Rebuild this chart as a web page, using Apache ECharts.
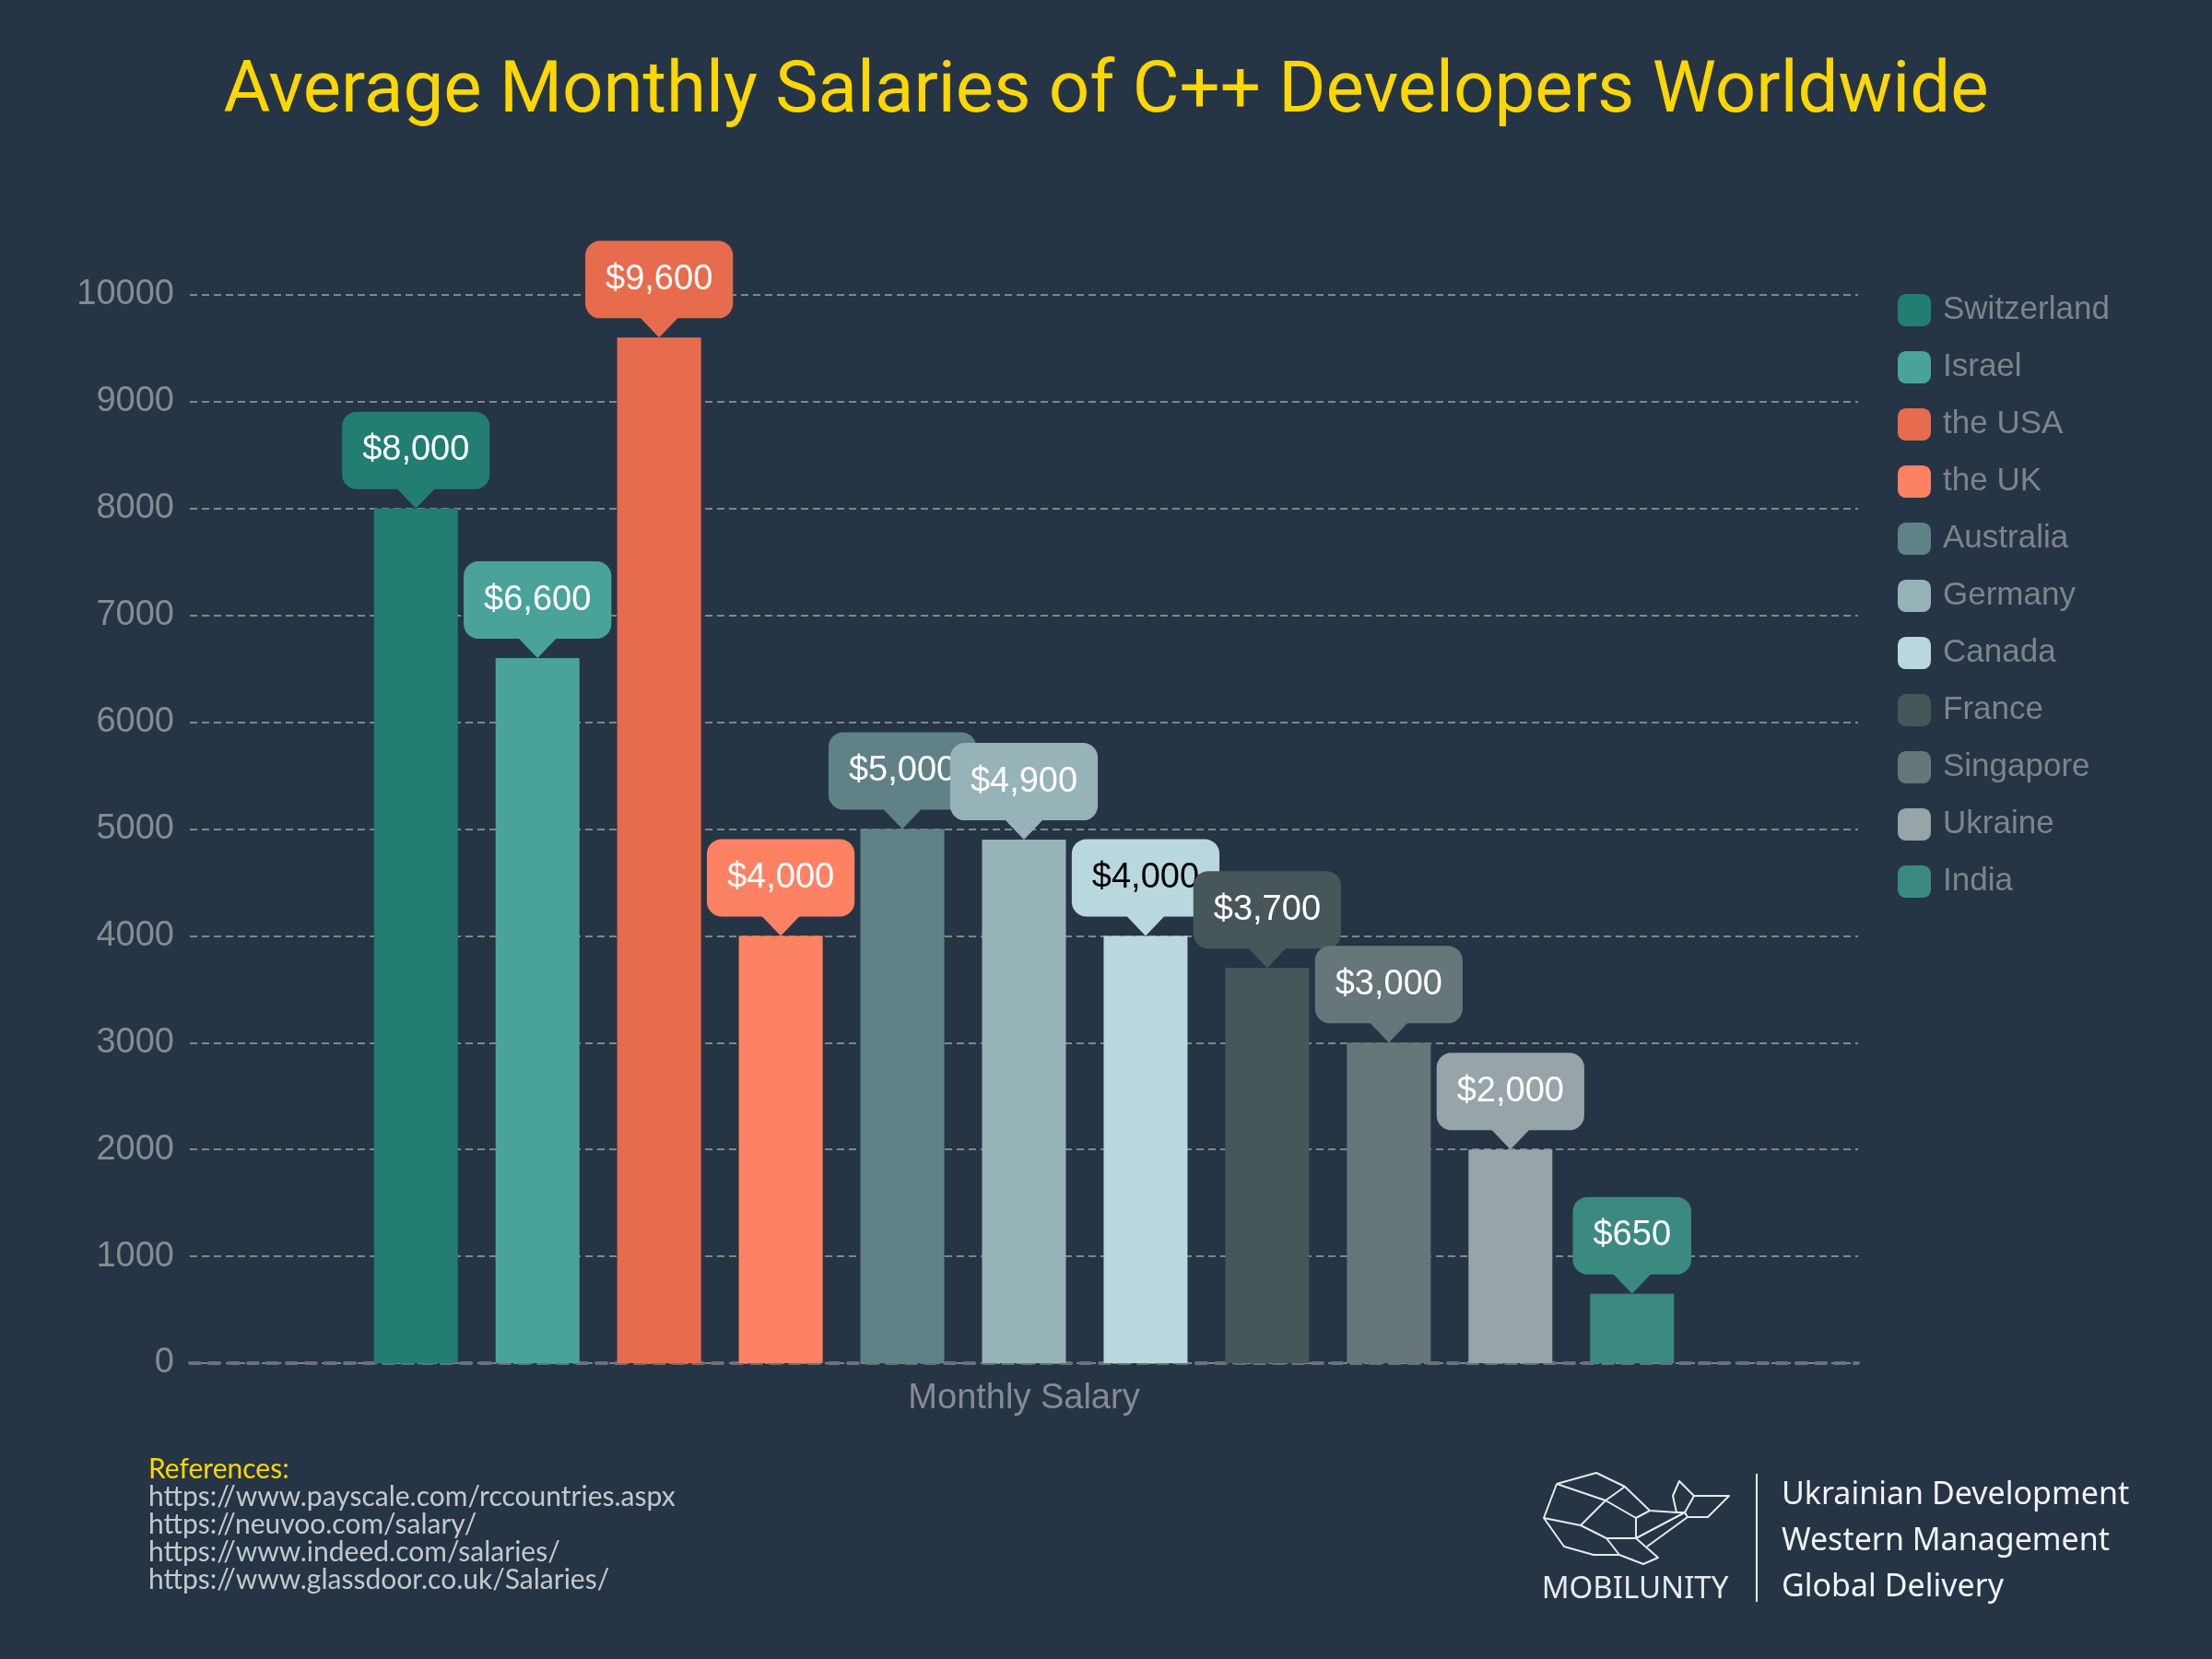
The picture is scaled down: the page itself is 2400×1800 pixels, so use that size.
<!DOCTYPE html>
<html>
<head>
<meta charset="utf-8">
<style>
  html, body { margin: 0; padding: 0; background: #253546; }
  #chart { width: 2400px; height: 1800px; }
</style>
<script src="https://cdn.jsdelivr.net/npm/echarts@6/dist/echarts.min.js"></script>
</head>
<body>
<div id="chart"></div>
<script>
// ---- data ----
const categories = ['Monthly Salary'];
const countries = ['Switzerland', 'Israel', 'the USA', 'the UK', 'Australia', 'Germany', 'Canada', 'France', 'Singapore', 'Ukraine', 'India'];
const salaries = [8000, 6600, 9600, 4000, 5000, 4900, 4000, 3700, 3000, 2000, 650];
const yTicks = { min: 0, max: 10000, interval: 1000 };
const references = [
  'https://www.payscale.com/rccountries.aspx',
  'https://neuvoo.com/salary/',
  'https://www.indeed.com/salaries/',
  'https://www.glassdoor.co.uk/Salaries/'
];
const taglines = ['Ukrainian Development', 'Western Management', 'Global Delivery'];

// ---- styles ----
const colors = ['#227D72', '#4AA39A', '#E76C4D', '#FD8263', '#608286', '#96B3B7', '#B8D8DD', '#475659', '#677679', '#97A4A8', '#3A8A81'];
const labelTextColors = ['#fff', '#fff', '#fff', '#fff', '#fff', '#fff', '#000', '#fff', '#fff', '#fff', '#fff'];
const bg = '#253546';
const gray = '#878b8f';
const sans = '"Liberation Sans", Arial, sans-serif';

function money(v) {
  return '$' + String(v).replace(/\B(?=(\d{3})+(?!\d))/g, ',');
}

const chart = echarts.init(document.getElementById('chart'), null, { renderer: 'canvas' });

const series = countries.map((name, i) => ({
  name: name,
  type: 'bar',
  data: [salaries[i]],
  barWidth: 91,
  barGap: '45%',
  itemStyle: { color: colors[i] },
  label: {
    show: true,
    position: 'top',
    distance: 21,
    formatter: p => money(p.value),
    color: labelTextColors[i],
    fontSize: 38,
    fontFamily: sans,
    lineHeight: 44,
    backgroundColor: colors[i],
    padding: [20, 22],
    borderRadius: 16
  },
  markPoint: {
    silent: true,
    animation: false,
    symbol: 'triangle',
    symbolSize: [42, 22],
    symbolRotate: 180,
    symbolOffset: [0, -11],
    itemStyle: { color: colors[i] },
    label: { show: false },
    data: [{ coord: [categories[0], salaries[i]] }]
  }
}));

// whale logo outline (decoration)
const P = {
  A: [1732, 1598], B: [1689, 1610], C: [1675, 1647], D: [1697, 1678], E: [1729, 1687],
  F: [1757, 1687], G: [1783, 1697], H: [1799, 1690], I: [1775, 1669], J: [1743, 1669],
  K: [1715, 1655], L: [1742, 1628], M: [1763, 1613], N: [1790, 1639], O: [1775, 1647],
  P: [1828, 1641], P2: [1819, 1641], Q: [1787, 1678], R: [1831, 1646],
  T1: [1815, 1623], T2: [1822, 1607], T3: [1838, 1623], T4: [1876, 1623], T5: [1853, 1646]
};
const whalePaths = [
  ['B', 'A', 'M', 'N', 'P2', 'P'],
  ['B', 'C', 'D', 'E', 'F', 'G', 'H', 'I'],
  ['B', 'L', 'M'],
  ['C', 'K', 'L', 'O', 'N'],
  ['K', 'J', 'F'],
  ['J', 'I', 'O'],
  ['I', 'P'],
  ['Q', 'R'],
  ['P2', 'T1', 'T2', 'T3', 'T4', 'T5', 'R'],
  ['T3', 'P', 'R']
];

const graphics = [];
whalePaths.forEach(path => {
  graphics.push({
    type: 'polyline', silent: true,
    shape: { points: path.map(k => P[k]) },
    style: { stroke: '#e8eaec', lineWidth: 2, fill: null, lineJoin: 'round' }
  });
});
graphics.push({
  type: 'text', silent: true, x: 1774, y: 1725,
  style: { text: 'MOBILUNITY', fill: '#e8eaec', font: '33px "Noto Sans", Roboto, sans-serif', align: 'center', verticalAlign: 'middle' }
});
graphics.push({
  type: 'line', silent: true,
  shape: { x1: 1906, y1: 1599, x2: 1906, y2: 1738 },
  style: { stroke: '#e8eaec', lineWidth: 2 }
});
taglines.forEach((t, i) => {
  graphics.push({
    type: 'text', silent: true, x: 1933, y: 1622 + i * 50,
    style: { text: t, fill: '#f2f3f4', font: '34px "Noto Sans", Roboto, sans-serif', align: 'left', verticalAlign: 'middle' }
  });
});
graphics.push({
  type: 'text', silent: true, x: 161, y: 1594,
  style: { text: 'References:', fill: '#FFD700', font: '30px Lato, sans-serif', align: 'left', verticalAlign: 'middle' }
});
references.forEach((r, i) => {
  graphics.push({
    type: 'text', silent: true, x: 161, y: 1624 + i * 30,
    style: { text: r, fill: '#c5c8cb', font: '30px Lato, sans-serif', align: 'left', verticalAlign: 'middle' }
  });
});

chart.setOption({
  backgroundColor: bg,
  animation: false,
  title: {
    text: 'Average Monthly Salaries of C++ Developers Worldwide',
    left: 'center',
    top: 57,
    textStyle: { color: '#FFD700', fontSize: 78, fontWeight: 'normal', fontFamily: 'Roboto, sans-serif' }
  },
  legend: {
    orient: 'vertical',
    left: 2054,
    top: 314,
    itemWidth: 36,
    itemHeight: 35,
    itemGap: 27,
    icon: 'roundRect',
    selectedMode: false,
    data: countries,
    textStyle: { color: '#7f8488', fontSize: 35, fontFamily: sans, lineHeight: 35, padding: [0, 0, 0, 8] }
  },
  grid: { left: 206, right: 384, top: 320, bottom: 321, containLabel: false },
  xAxis: {
    type: 'category',
    data: categories,
    axisTick: { show: false },
    axisLine: { show: true, lineStyle: { color: '#6b7176', width: 4, type: [11, 10] } },
    axisLabel: { color: gray, fontSize: 38, fontFamily: sans, margin: 20 },
    splitLine: { show: false }
  },
  yAxis: {
    type: 'value',
    min: yTicks.min,
    max: yTicks.max,
    interval: yTicks.interval,
    axisLine: { show: false },
    axisTick: { show: false },
    axisLabel: { color: gray, fontSize: 38, fontFamily: sans, margin: 17, formatter: v => String(v) },
    splitLine: { show: true, lineStyle: { color: '#81868a', width: 2, type: [8, 5] } }
  },
  series: series,
  graphic: graphics
});
</script>
</body>
</html>
